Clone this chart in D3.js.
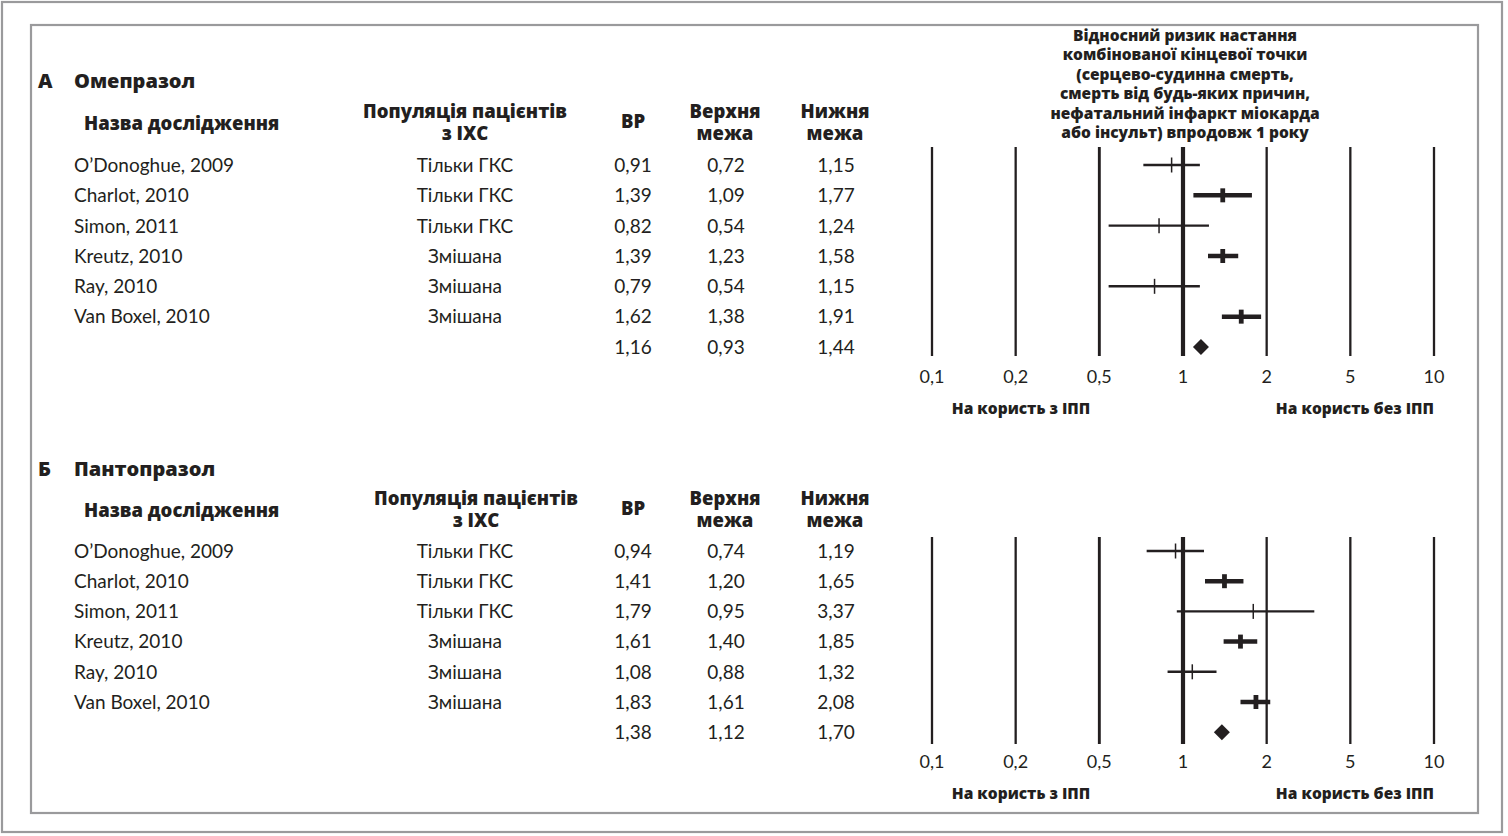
<!DOCTYPE html>
<html><head><meta charset="utf-8">
<script src="https://cdn.jsdelivr.net/npm/d3@7"></script>
<style>
html,body{margin:0;padding:0;background:#fff;}
svg{display:block;}
text{font-family:Lato,"Noto Sans",sans-serif;fill:#231f20;}
.b{font-family:"Open Sans","Noto Sans",sans-serif;font-weight:800;}
</style></head>
<body>
<svg id="c" width="1508" height="836"></svg>
<script>
// ---- data ----
const studies = ["O’Donoghue, 2009","Charlot, 2010","Simon, 2011","Kreutz, 2010","Ray, 2010","Van Boxel, 2010"];
const population = ["Тільки ГКС","Тільки ГКС","Тільки ГКС","Змішана","Змішана","Змішана"];
const studyWeight = ["low","high","low","high","low","high"];

const omeRR = [0.91,1.39,0.82,1.39,0.79,1.62];
const omeLo = [0.72,1.09,0.54,1.23,0.54,1.38];
const omeHi = [1.15,1.77,1.24,1.58,1.15,1.91];
const omePooled = [1.16,0.93,1.44];

const pantoRR = [0.94,1.41,1.79,1.61,1.08,1.83];
const pantoLo = [0.74,1.20,0.95,1.40,0.88,1.61];
const pantoHi = [1.19,1.65,3.37,1.85,1.32,2.08];
const pantoPooled = [1.38,1.12,1.70];

const tickValues = [0.1,0.2,0.5,1,2,5,10];
const tickLabels = ["0,1","0,2","0,5","1","2","5","10"];

const titleLines = ["Відносний ризик настання","комбінованої кінцевої точки","(серцево-судинна смерть,","смерть від будь-яких причин,","нефатальний інфаркт міокарда","або інсульт) впродовж 1 року"];
const favLeft = "На користь з ІПП";
const favRight = "На користь без ІПП";

const fmt = v => v.toFixed(2).replace(".", ",");

// ---- drawing ----
const svg = d3.select("#c");
const ink = "#231f20";

svg.append("rect").attr("x",2).attr("y",2).attr("width",1500).attr("height",830)
  .attr("fill","none").attr("stroke","#9a9a9c").attr("stroke-width",2.2);
svg.append("rect").attr("x",31).attr("y",25).attr("width",1447).attr("height",788)
  .attr("fill","none").attr("stroke","#9a9a9c").attr("stroke-width",2.2);

const xLeft = 932, xRight = 1434;
const x = d3.scaleLog()
  .domain(tickValues)
  .range(tickValues.map((d,i)=> xLeft + i*(xRight-xLeft)/(tickValues.length-1)));

const gridWidth = v => v===1 ? 4.2 : (v===0.5 ? 2.9 : 2.3);

// title
svg.append("g").selectAll("text").data(titleLines).join("text")
  .attr("class","b").attr("x",1185).attr("y",(d,i)=>35+i*19.5).attr("dy","0.36em")
  .attr("text-anchor","middle").attr("font-size",15.5).text(d=>d);

function panel(cfg){
  const g = svg.append("g");
  const H = cfg.hy;
  // headers
  g.append("text").attr("class","b").attr("x",38).attr("y",H.title).attr("dy","0.36em").attr("font-size",20).text(cfg.letter);
  g.append("text").attr("class","b").attr("x",74).attr("y",H.title).attr("dy","0.36em").attr("font-size",20).text(cfg.drug);
  g.append("text").attr("class","b").attr("x",84).attr("y",H.name).attr("dy","0.36em").attr("font-size",18.5).text("Назва дослідження");
  [["Популяція пацієнтів",0],["з ІХС",1]].forEach(([t,k])=>
    g.append("text").attr("class","b").attr("x",cfg.popHeadX).attr("y",H.l1+k*22).attr("dy","0.36em").attr("text-anchor","middle").attr("font-size",18.5).text(t));
  g.append("text").attr("class","b").attr("x",633).attr("y",H.name-2).attr("dy","0.36em").attr("text-anchor","middle").attr("font-size",18.5).text("ВР");
  [["Верхня",725],["Нижня",835]].forEach(([t,cx])=>{
    g.append("text").attr("class","b").attr("x",cx).attr("y",H.l1).attr("dy","0.36em").attr("text-anchor","middle").attr("font-size",18.5).text(t);
    g.append("text").attr("class","b").attr("x",cx).attr("y",H.l1+22).attr("dy","0.36em").attr("text-anchor","middle").attr("font-size",18.5).text("межа");
  });

  const rowY = i => cfg.row0 + i*cfg.step;
  const rows = studies.map((s,i)=>({s, pop:population[i], rr:cfg.rr[i], lo:cfg.lo[i], hi:cfg.hi[i], w:studyWeight[i], y:rowY(i)}));
  const pooled = {rr:cfg.pooled[0], lo:cfg.pooled[1], hi:cfg.pooled[2], y:rowY(6)};

  // table text
  const t = g.append("g").attr("font-size",19);
  rows.forEach(r=>{
    t.append("text").attr("x",74).attr("y",r.y).attr("dy","0.36em").text(r.s);
    t.append("text").attr("x",465).attr("y",r.y).attr("dy","0.36em").attr("text-anchor","middle").text(r.pop);
  });
  [...rows, pooled].forEach(r=>{
    t.append("text").attr("x",633).attr("y",r.y).attr("dy","0.36em").attr("text-anchor","middle").text(fmt(r.rr));
    t.append("text").attr("x",726).attr("y",r.y).attr("dy","0.36em").attr("text-anchor","middle").text(fmt(r.lo));
    t.append("text").attr("x",836).attr("y",r.y).attr("dy","0.36em").attr("text-anchor","middle").text(fmt(r.hi));
  });

  // grid lines
  g.append("g").selectAll("line").data(tickValues).join("line")
    .attr("x1",d=>x(d)).attr("x2",d=>x(d)).attr("y1",cfg.gridTop).attr("y2",cfg.gridBottom)
    .attr("stroke",ink).attr("stroke-width",gridWidth);
  // tick labels
  g.append("g").selectAll("text").data(tickValues).join("text")
    .attr("x",d=>x(d)).attr("y",cfg.tickY).attr("dy","0.36em").attr("text-anchor","middle")
    .attr("font-size",18).text((d,i)=>tickLabels[i]);
  g.append("text").attr("class","b").attr("x",1021).attr("y",cfg.tickY+31).attr("dy","0.36em")
    .attr("text-anchor","middle").attr("font-size",15.5).text(favLeft);
  g.append("text").attr("class","b").attr("x",x(10)).attr("y",cfg.tickY+31).attr("dy","0.36em")
    .attr("text-anchor","end").attr("font-size",15.5).text(favRight);

  // markers
  const m = g.append("g");
  rows.forEach(r=>{
    const heavy = r.w==="high";
    m.append("line").attr("x1",x(r.lo)).attr("x2",x(r.hi)).attr("y1",r.y).attr("y2",r.y)
      .attr("stroke",ink).attr("stroke-width",heavy?4.5:2.4);
    m.append("line").attr("x1",x(r.rr)).attr("x2",x(r.rr)).attr("y1",r.y-(heavy?7:7.5)).attr("y2",r.y+(heavy?7:7.5))
      .attr("stroke",ink).attr("stroke-width",heavy?4.8:1.5);
  });
  const cx = x(pooled.rr), cy = pooled.y;
  m.append("path").attr("d",`M${cx-8},${cy}L${cx},${cy-8}L${cx+8},${cy}L${cx},${cy+8}Z`).attr("fill",ink);
}

panel({letter:"А", drug:"Омепразол", rr:omeRR, lo:omeLo, hi:omeHi, pooled:omePooled,
  hy:{title:81, name:123, l1:111}, popHeadX:465, row0:165, step:30.33, gridTop:147, gridBottom:356, tickY:377});
panel({letter:"Б", drug:"Пантопразол", rr:pantoRR, lo:pantoLo, hi:pantoHi, pooled:pantoPooled,
  hy:{title:469, name:510, l1:498}, popHeadX:476, row0:551, step:30.2, gridTop:537, gridBottom:744, tickY:762});
</script>
</body></html>
